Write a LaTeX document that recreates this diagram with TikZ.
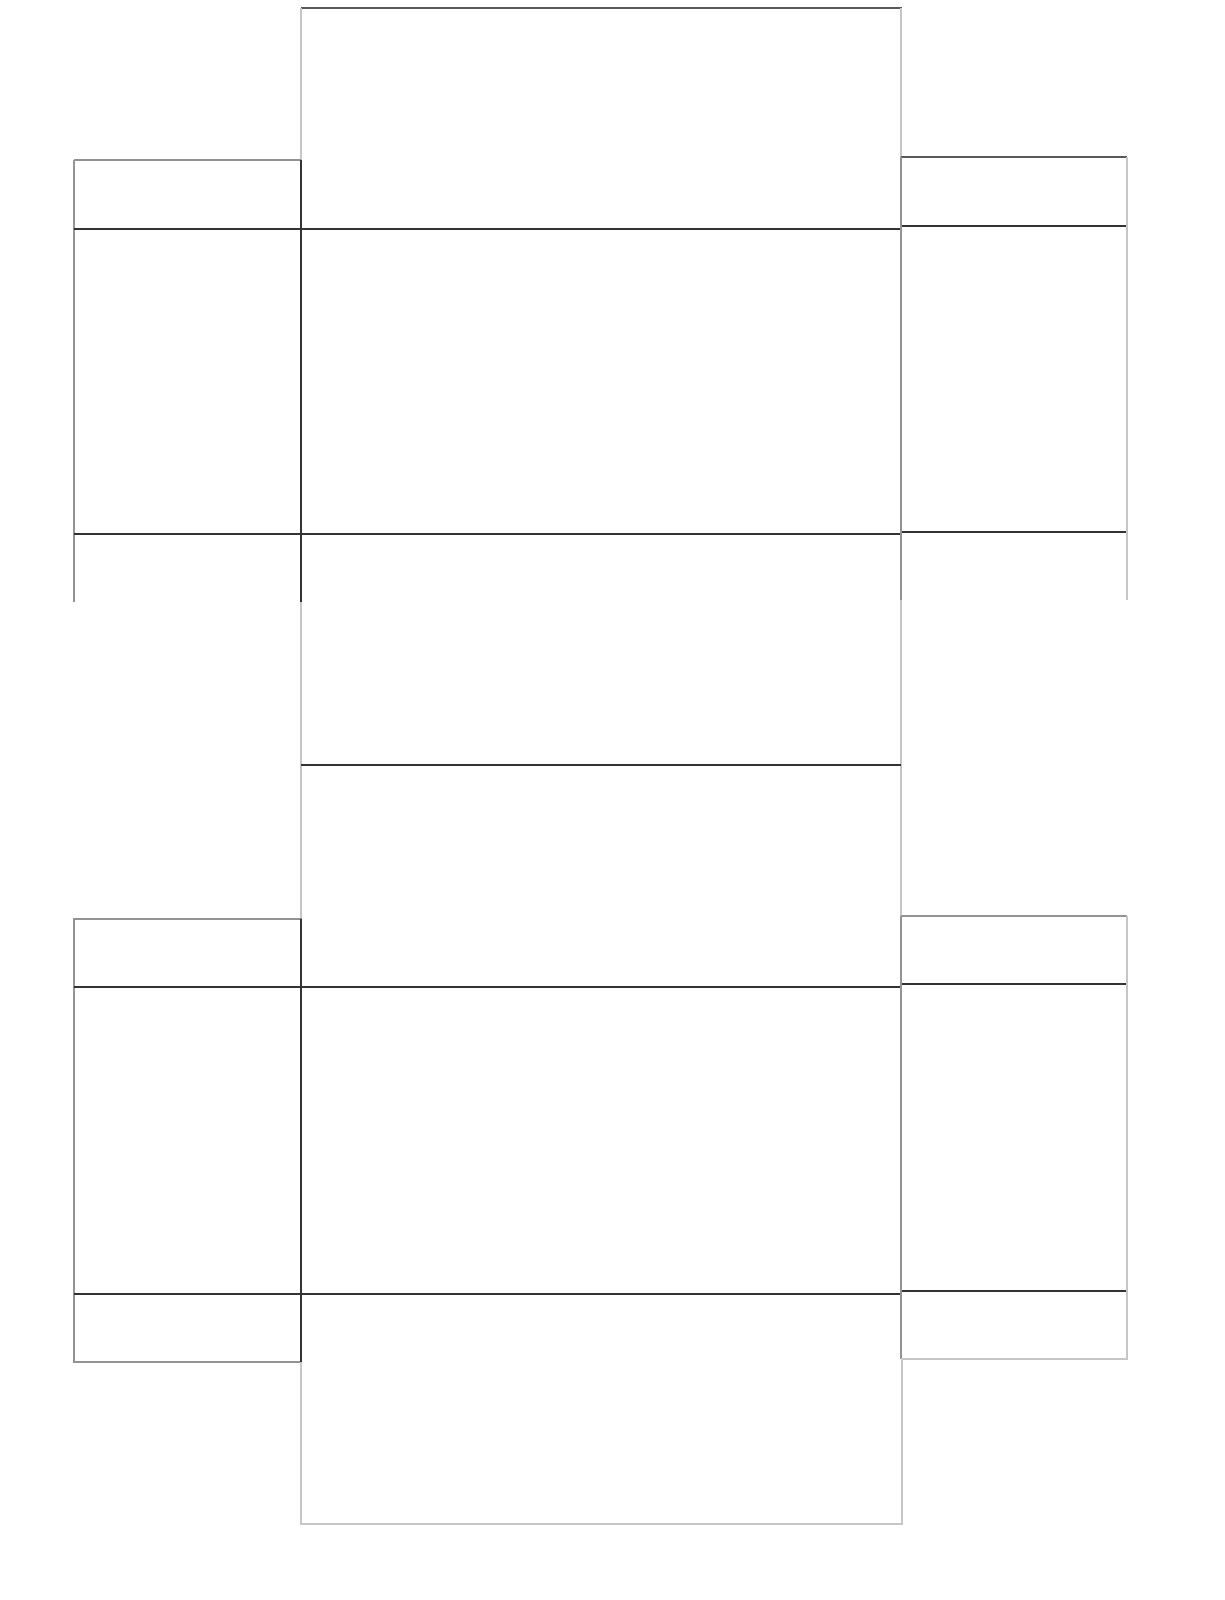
\documentclass[tikz,border=0pt]{standalone}
\begin{document}
\begin{tikzpicture}[x=1pt,y=-1pt,
        cut/.style={draw=gray!45,line width=1.2pt},
        edge/.style={draw=gray!85,line width=1.2pt},
        fold/.style={draw=black!80,line width=1.3pt}]
        \useasboundingbox[fill=white] (0,0) rectangle (1225,1600);

        % upper sheet
        \draw[fold,draw=black!65] (301,8) -- (902,8);
        \draw[cut] (301,8) -- (301,160);
        \draw[cut] (901,8) -- (901,157);

        \draw[edge] (74,160) -- (301,160);
        \draw[edge] (74,160) -- (74,602);
        \draw[fold] (301,160) -- (301,602);
        \draw[fold] (74,229) -- (901,229);
        \draw[fold] (74,534) -- (901,534);

        \draw[fold,draw=black!65] (901,157) -- (1127,157);
        \draw[fold] (901,226) -- (1127,226);
        \draw[fold] (901,532) -- (1127,532);
        \draw[edge] (901,157) -- (901,600);
        \draw[cut] (1127,157) -- (1127,600);

        \draw[cut] (301,602) -- (301,919);
        \draw[cut] (901,600) -- (901,916);
        \draw[fold,line width=2pt] (301,765) -- (901,765);

        % lower sheet
        \draw[edge] (74,919) -- (301,919);
        \draw[edge] (74,919) rectangle (301,1362);
        \draw[fold] (301,919) -- (301,1362);
        \draw[fold] (74,987) -- (901,987);
        \draw[fold] (74,1294) -- (901,1294);

        \draw[edge] (901,916) -- (1127,916);
        \draw[fold] (901,984) -- (1127,984);
        \draw[fold] (901,1291) -- (1127,1291);
        \draw[edge] (901,916) -- (901,1359);
        \draw[cut] (1127,916) -- (1127,1359) -- (901,1359);

        \draw[cut] (301,1362) -- (301,1524) -- (902,1524) -- (902,1359);
\end{tikzpicture}
\end{document}
